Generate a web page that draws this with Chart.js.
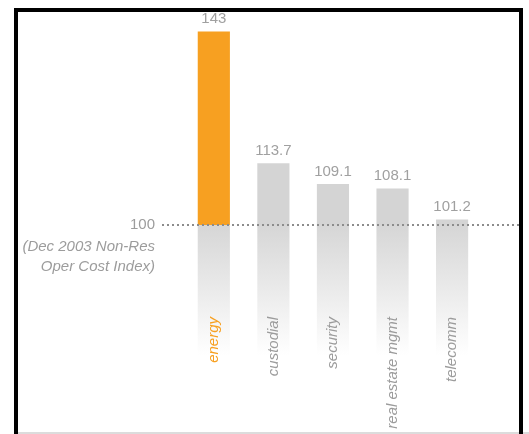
<!DOCTYPE html>
<html><head><meta charset="utf-8">
<style>
html,body{margin:0;padding:0;background:#fff;}
#wrap{position:relative;width:529px;height:434px;overflow:hidden;background:#fff;}
#c{position:absolute;left:0;top:0;}
#frame{position:absolute;left:14px;top:8px;width:501px;height:430px;border:4px solid #000;border-bottom:none;pointer-events:none;}
#floor{position:absolute;left:18px;right:0;top:432px;height:2px;background:#dcdcdc;}
</style>
<script src="https://cdn.jsdelivr.net/npm/chart.js@4/dist/chart.umd.min.js"></script>
</head>
<body>
<div id="wrap">
<canvas id="c" width="529" height="434"></canvas>
<div id="floor"></div>
<div id="frame"></div>
</div>
<script>
const categories = ['energy', 'custodial', 'security', 'real estate mgmt', 'telecomm'];
const values = [143, 113.7, 109.1, 108.1, 101.2];
const baseline = 100;
const fadeTo = 71;
const yTicks = [100];
const baselineNote = ['(Dec 2003 Non-Res', 'Oper Cost Index)'];
const highlight = 'energy';

const ORANGE = '#F7A021';
const BAR_GRAY = '#d4d4d4';
const TEXT_GRAY = '#9c9c9c';
const FONT = '"Liberation Sans", Arial, Helvetica, sans-serif';

const lowerData = categories.map((c, i) => ({ x: i + 1, y: [fadeTo, baseline] }));
const upperData = categories.map((c, i) => ({ x: i + 1, y: [baseline, values[i]] }));

const valueLabels = {
  id: 'valueLabels',
  afterDatasetsDraw(chart) {
    const ctx = chart.ctx;
    const meta = chart.getDatasetMeta(1);
    ctx.save();
    ctx.font = '15px ' + FONT;
    ctx.fillStyle = '#a0a0a0';
    ctx.textAlign = 'center';
    ctx.textBaseline = 'bottom';
    meta.data.forEach((bar, i) => {
      ctx.fillText(String(values[i]), bar.x, bar.y - 5);
    });
    ctx.restore();
  }
};

const notePlugin = {
  id: 'note',
  afterDraw(chart) {
    const ctx = chart.ctx;
    const ys = chart.scales.y;
    const py = ys.getPixelForValue(baseline);
    ctx.save();
    ctx.font = 'italic 15px ' + FONT;
    ctx.fillStyle = TEXT_GRAY;
    ctx.textAlign = 'right';
    ctx.textBaseline = 'middle';
    baselineNote.forEach((line, i) => {
      ctx.fillText(line, ys.right - 7, py + 22 + i * 20);
    });
    ctx.restore();
  }
};

const fadeFill = (context) => {
  const chart = context.chart;
  const ys = chart.scales.y;
  if (!ys || !chart.chartArea) return BAR_GRAY;
  const g = chart.ctx.createLinearGradient(0, ys.getPixelForValue(baseline), 0, ys.getPixelForValue(fadeTo));
  g.addColorStop(0, '#d6d6d6');
  g.addColorStop(1, '#ffffff');
  return g;
};

new Chart(document.getElementById('c'), {
  type: 'bar',
  data: {
    datasets: [
      {
        data: lowerData,
        backgroundColor: fadeFill,
        borderWidth: 0,
        grouped: false,
        barPercentage: 0.54,
        categoryPercentage: 1,
        clip: false
      },
      {
        data: upperData,
        backgroundColor: categories.map(c => c === highlight ? ORANGE : BAR_GRAY),
        borderWidth: 0,
        grouped: false,
        barPercentage: 0.54,
        categoryPercentage: 1,
        clip: false
      }
    ]
  },
  options: {
    responsive: false,
    animation: false,
    layout: { padding: { left: 0, right: 9, top: 0, bottom: 0 } },
    plugins: { legend: { display: false }, tooltip: { enabled: false } },
    scales: {
      x: {
        type: 'linear',
        offset: false,
        min: 0.13,
        max: 6.14,
        afterBuildTicks: (s) => { s.ticks = categories.map((c, i) => ({ value: i + 1 })); },
        afterFit: (s) => { s.height = 119; s.paddingLeft = 0; s.paddingRight = 0; },
        grid: { display: false, drawTicks: false },
        border: { display: false },
        ticks: {
          z: 1,
          autoSkip: false,
          minRotation: 90,
          maxRotation: 90,
          padding: 2,
          callback: (v) => categories[Math.round(v) - 1],
          color: (ctx) => categories[ctx.index] === highlight ? ORANGE : TEXT_GRAY,
          font: { family: FONT, size: 15, style: 'italic' }
        }
      },
      y: {
        min: 80,
        max: 150,
        afterBuildTicks: (s) => { s.ticks = yTicks.map(v => ({ value: v })); },
        afterFit: (s) => { s.width = 162; s.paddingTop = 0; s.paddingBottom = 0; },
        grid: { color: '#8c8c8c', lineWidth: 2, drawTicks: false, z: 1 },
        border: { display: false, dash: [2, 3] },
        ticks: {
          padding: 7,
          color: TEXT_GRAY,
          font: { family: FONT, size: 15 }
        }
      }
    }
  },
  plugins: [valueLabels, notePlugin]
});
</script>
</body></html>
